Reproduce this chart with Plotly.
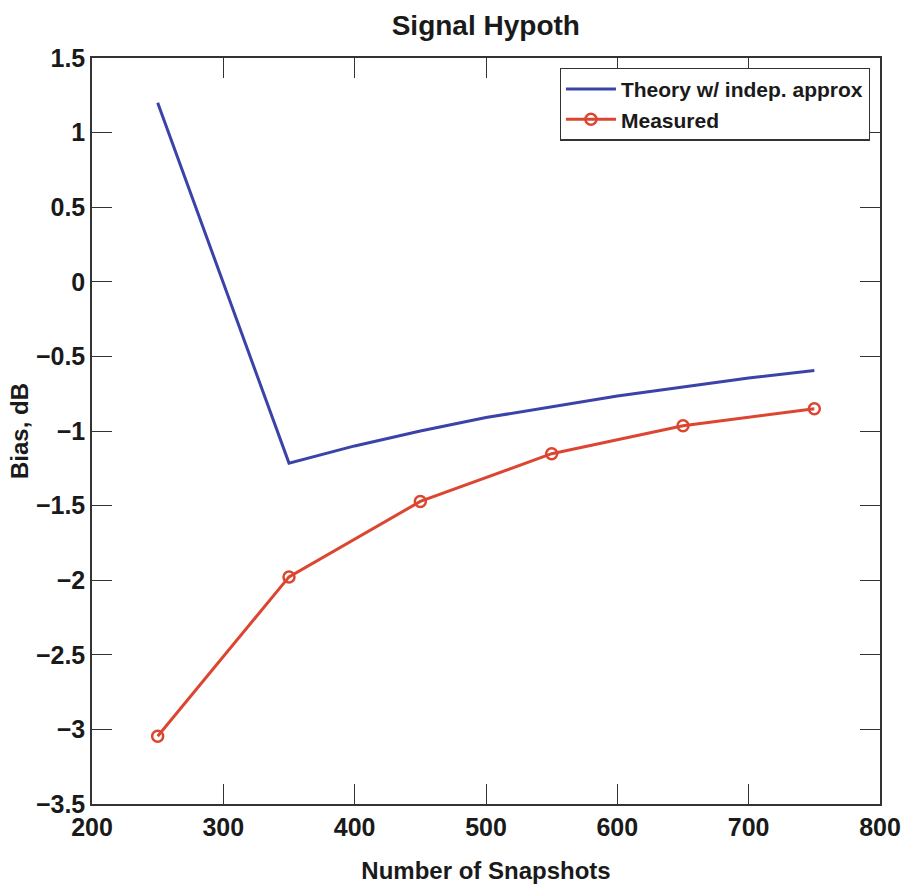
import plotly.graph_objects as go

# Number of snapshots and bias values (dB)
theory_x = [250, 350, 400, 450, 500, 550, 600, 650, 700, 750]
theory_y = [1.2, -1.215, -1.10, -1.00, -0.91, -0.835, -0.765, -0.705, -0.645, -0.594]

measured_x = [250, 350, 450, 550, 650, 750]
measured_y = [-3.046, -1.978, -1.472, -1.152, -0.965, -0.851]

x_ticks = [200, 300, 400, 500, 600, 700, 800]
y_ticks = [1.5, 1, 0.5, 0, -0.5, -1, -1.5, -2, -2.5, -3, -3.5]

FONT = "Liberation Sans, Arial, sans-serif"
INK = "#1a1a1a"
BLUE = "#3b42a8"
RED = "#dc4631"


def fmt(v):
    return f"{v:g}".replace("-", "\u2212")


fig = go.Figure()
fig.add_trace(go.Scatter(
    x=theory_x, y=theory_y, mode="lines", name="Theory w/ indep. approx",
    line=dict(color=BLUE, width=3),
))
fig.add_trace(go.Scatter(
    x=measured_x, y=measured_y, mode="lines+markers", name="Measured",
    line=dict(color=RED, width=3),
    marker=dict(symbol="circle-open", size=11, color=RED, line=dict(width=2.5, color=RED)),
))

axis_common = dict(
    showgrid=False, zeroline=False, showline=True, linecolor="#333333", linewidth=1.5,
    mirror="ticks", ticks="inside", ticklen=20, tickwidth=1.2, tickcolor="#333333",
    tickfont=dict(family=FONT, size=25, color=INK, weight="bold"),
    automargin=False,
)

fig.update_xaxes(
    range=[200, 800], tickvals=x_ticks, ticktext=[fmt(v) for v in x_ticks],
    title=dict(text="Number of Snapshots", font=dict(family=FONT, size=24, color=INK, weight="bold"),
               standoff=22),
    **axis_common,
)
fig.update_yaxes(
    range=[-3.5, 1.5], tickvals=y_ticks, ticktext=[fmt(v) for v in y_ticks],
    title=dict(text="Bias, dB", font=dict(family=FONT, size=24, color=INK, weight="bold"),
               standoff=0),
    **axis_common,
)

fig.update_layout(
    width=903, height=886,
    margin=dict(l=92, r=23, t=58, b=82),
    paper_bgcolor="white", plot_bgcolor="white",
    font=dict(family=FONT, color=INK),
    title=dict(text="Signal Hypoth", x=0.538, xanchor="center", y=0.972, yanchor="middle",
               font=dict(family=FONT, size=28, color=INK, weight="bold")),
    legend=dict(
        x=0.987, y=0.987, xanchor="right", yanchor="top",
        bgcolor="white", bordercolor="#333333", borderwidth=1.2,
        font=dict(family=FONT, size=21, color=INK, weight="bold"),
        itemwidth=50, tracegroupgap=0,
    ),
    showlegend=True,
)

fig.write_html("out.html")
